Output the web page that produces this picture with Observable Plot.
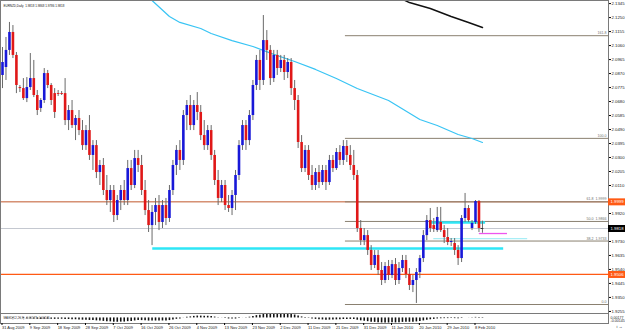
<!DOCTYPE html>
<html><head><meta charset="utf-8">
<script src="https://cdn.jsdelivr.net/npm/d3@7"></script>
<script src="https://cdn.jsdelivr.net/npm/@observablehq/plot@0.6"></script>
<style>
body{margin:0;background:#fff;width:625px;height:330px;overflow:hidden}
#chart svg{display:block}
</style>
</head><body><div id="chart"></div>
<script>
const title = "EURNZD,Daily  1.9818 1.9868 1.9786 1.9818";

const open = [2.0857,2.0911,2.1027,2.1149,2.0993,2.0775,2.0768,2.0700,2.0775,2.0836,
2.0721,2.0633,2.0687,2.0870,2.0789,2.0734,2.0734,2.0734,2.0734,2.0551,
2.0619,2.0517,2.0565,2.0483,2.0381,2.0483,2.0314,2.0381,2.0198,2.0246,
2.0076,2.0008,2.0076,1.9906,2.0008,2.0076,2.0008,2.0225,2.0110,2.0293,
2.0246,2.0076,1.9940,1.9838,1.9927,1.9974,1.9859,1.9974,1.9886,2.0076,
2.0246,2.0348,2.0280,2.0585,2.0653,2.0517,2.0653,2.0606,2.0449,2.0381,
2.0483,2.0314,2.0144,2.0022,2.0110,1.9974,1.9954,2.0042,2.0178,2.0381,
2.0517,2.0415,2.0585,2.0789,2.0959,2.0823,2.1094,2.1027,2.0836,2.0993,
2.0904,2.0959,2.0877,2.0945,2.0768,2.0687,2.0402,2.0225,2.0348,2.0178,
2.0110,2.0198,2.0130,2.0212,2.0130,2.0280,2.0225,2.0334,2.0280,2.0375,
2.0314,2.0246,2.0178,1.9818,1.9736,1.9770,1.9669,1.9567,1.9635,1.9533,
1.9465,1.9560,1.9499,1.9573,1.9465,1.9546,1.9601,1.9506,1.9431,1.9465,
1.9519,1.9614,1.9770,1.9872,1.9838,1.9804,1.9859,1.9804,1.9757,1.9723,
1.9716,1.9669,1.9614,1.9886,1.9954,1.9818,1.9859,2.0001,1.9818];

const high = [2.1047,2.1115,2.1217,2.1196,2.1013,2.0789,2.0836,2.0843,2.1006,2.0959,
2.0755,2.0700,2.0904,2.0891,2.0802,2.0768,2.0755,2.0748,2.0836,2.0653,
2.0687,2.0585,2.0619,2.0551,2.0517,2.0585,2.0415,2.0415,2.0280,2.0293,
2.0178,2.0110,2.0110,2.0042,2.0110,2.0144,2.0280,2.0280,2.0348,2.0348,
2.0314,2.0144,2.0008,1.9974,2.0022,2.0042,2.0008,2.0022,2.0110,2.0280,
2.0381,2.0415,2.0619,2.0687,2.0721,2.0687,2.0741,2.0653,2.0551,2.0517,
2.0517,2.0348,2.0212,2.0144,2.0144,2.0042,2.0076,2.0212,2.0415,2.0551,
2.0551,2.0619,2.0823,2.0993,2.1027,2.1264,2.1162,2.1060,2.1027,2.1027,
2.0993,2.0993,2.0972,2.0972,2.0823,2.0721,2.0449,2.0381,2.0381,2.0246,
2.0225,2.0246,2.0246,2.0246,2.0314,2.0314,2.0361,2.0381,2.0415,2.0415,
2.0381,2.0348,2.0212,1.9872,1.9818,1.9804,1.9702,1.9669,1.9669,1.9587,
1.9587,1.9601,1.9601,1.9614,1.9587,1.9635,1.9635,1.9546,1.9499,1.9546,
1.9635,1.9804,1.9906,1.9954,1.9886,1.9961,1.9961,1.9838,1.9818,1.9750,
1.9750,1.9702,1.9906,2.0056,1.9974,1.9872,2.0008,2.0008,1.9868];

const low = [2.0768,2.0823,2.0993,2.0972,2.0734,2.0741,2.0687,2.0673,2.0755,2.0707,
2.0585,2.0606,2.0667,2.0768,2.0653,2.0565,2.0714,2.0721,2.0517,2.0483,
2.0497,2.0415,2.0449,2.0348,2.0348,2.0280,2.0212,2.0157,2.0110,2.0042,
1.9974,1.9927,1.9859,1.9872,1.9940,1.9974,1.9974,2.0076,2.0089,2.0198,
2.0042,1.9906,1.9791,1.9702,1.9838,1.9804,1.9818,1.9838,1.9859,2.0042,
2.0178,2.0212,2.0246,2.0483,2.0483,2.0483,2.0551,2.0415,2.0348,2.0348,
2.0280,2.0110,1.9974,1.9994,1.9940,1.9927,1.9906,1.9940,2.0144,2.0348,
2.0348,2.0381,2.0551,2.0755,2.0755,2.0789,2.0959,2.0789,2.0809,2.0857,
2.0877,2.0823,2.0836,2.0721,2.0619,2.0361,2.0198,2.0198,2.0144,2.0076,
2.0076,2.0089,2.0110,2.0076,2.0110,2.0198,2.0212,2.0246,2.0246,2.0266,
2.0212,2.0144,1.9791,1.9702,1.9702,1.9635,1.9533,1.9546,1.9499,1.9431,
1.9444,1.9465,1.9478,1.9431,1.9438,1.9519,1.9478,1.9397,1.9383,1.9309,
1.9478,1.9587,1.9736,1.9791,1.9791,1.9791,1.9791,1.9716,1.9702,1.9696,
1.9635,1.9567,1.9587,1.9859,1.9859,1.9804,1.9845,1.9791,1.9786];

const close = [2.0945,2.1027,2.1149,2.0993,2.0789,2.0768,2.0700,2.0775,2.0836,2.0721,
2.0619,2.0687,2.0870,2.0789,2.0687,2.0606,2.0728,2.0728,2.0551,2.0619,
2.0517,2.0565,2.0483,2.0381,2.0483,2.0314,2.0381,2.0198,2.0246,2.0076,
2.0008,2.0076,1.9906,2.0008,2.0076,2.0008,2.0225,2.0110,2.0293,2.0246,
2.0076,1.9940,1.9838,1.9927,1.9974,1.9859,1.9974,1.9886,2.0076,2.0246,
2.0348,2.0280,2.0585,2.0653,2.0517,2.0653,2.0606,2.0449,2.0381,2.0483,
2.0314,2.0144,2.0022,2.0110,1.9974,1.9954,2.0042,2.0178,2.0381,2.0517,
2.0415,2.0585,2.0789,2.0959,2.0823,2.1094,2.1027,2.0836,2.0993,2.0904,
2.0959,2.0877,2.0945,2.0768,2.0687,2.0402,2.0225,2.0348,2.0178,2.0110,
2.0198,2.0130,2.0212,2.0130,2.0280,2.0225,2.0334,2.0280,2.0375,2.0314,
2.0246,2.0178,1.9818,1.9736,1.9770,1.9669,1.9567,1.9635,1.9533,1.9465,
1.9560,1.9499,1.9573,1.9465,1.9546,1.9601,1.9506,1.9431,1.9465,1.9519,
1.9614,1.9770,1.9872,1.9818,1.9811,1.9893,1.9804,1.9757,1.9723,1.9730,
1.9669,1.9614,1.9886,1.9954,1.9872,1.9852,2.0001,1.9818,1.9818];

// moving averages (sampled at bar indices)
const cyanIdx = [41,43,48,51,57,60,66,72,78,84,90,96,102,108,111,120,125,131,135,138];
const cyanMA  = [2.1407,2.1366,2.1257,2.1217,2.1176,2.1142,2.1094,2.1054,2.1000,2.0952,2.0898,2.0836,2.0769,2.0714,2.0687,2.0558,2.0517,2.0456,2.0429,2.0402];
const blackIdx = [114,117,123,129,134,138];
const blackMA  = [2.1386,2.1352,2.1312,2.1257,2.1217,2.1183];

// price-axis ticks (those hidden under the price boxes are left out)
const yTicks = [2.1345,2.1250,2.1155,2.1060,2.0965,2.0870,2.0775,2.0680,2.0585,2.0490,2.0395,2.0300,2.0205,2.0110,1.9920,1.9730,1.9635,1.9540,1.9445,1.9350,1.9255];

// date axis (bar index of each label)
const xTickIdx = [0,8,16,24,32,40,48,56,64,72,80,88,96,104,112,120,128,136];
const xTickLabels = ["31 Aug 2009","9 Sep 2009","18 Sep 2009","28 Sep 2009","7 Oct 2009","16 Oct 2009","26 Oct 2009","4 Nov 2009","13 Nov 2009","23 Nov 2009","2 Dec 2009","11 Dec 2009","21 Dec 2009","31 Dec 2009","11 Jan 2010","20 Jan 2010","29 Jan 2010","8 Feb 2010"];

// Fibonacci tool
const fibAnchor0 = 1.9302, fibAnchor100 = 2.0430;
const fibLevelsA = [0, 100, 161.8];
const fibLevelsB = [38.2, 50, 61.8];
const fibStartIdx = 98.6;

// horizontal lines
const bidPrice = 1.9818;
const orangeHigh = 1.9999;
const orangeLow = 1.9506;
const cyanZones = [
  {p:1.9682, from:43.2, to:144.1, w:2.6, c:"#2ee6f6"},
  {p:1.9859, from:123.1, to:138.9, w:2.6, c:"#2ee6f6"},
  {p:1.9750, from:124.0, to:151.0, w:1.2, c:"#a8eef6"}
];
const magentaLine = {p:1.9784, from:137.1, to:145.2};

const macdLabels = ["MACD(12,26,9) -0.00177 -0.00145", "0.00177", "-0.00145"];

// ---------- build ----------
const xDomain = [-0.575, 174.24];
const xRight = xDomain[1];
const yDomain = [1.9241, 2.1366];
const rows = close.map((c,i)=>({i, o:open[i], h:high[i], l:low[i], c}));
const up = rows.filter(d=>d.c>d.o+0.0002);
const dn = rows.filter(d=>d.c<d.o-0.0002);
const dj = rows.filter(d=>Math.abs(d.c-d.o)<=0.0002);
const cyanRows = cyanIdx.map((i,k)=>({i, v:cyanMA[k]}));
const blackRows = blackIdx.map((i,k)=>({i, v:blackMA[k]}));
const fibP = r => fibAnchor0 + r/100*(fibAnchor100-fibAnchor0);
const fibA = fibLevelsA.map(r=>({r, p:fibP(r)}));
const fibB = fibLevelsB.map(r=>({r, p:fibP(r)}));
const fibLineColor = "#8a8070";

function ema(arr,n){const k=2/(n+1);let e=arr[0];return arr.map(v=>(e=v*k+e*(1-k)));}
const e12 = ema(close,12), e26 = ema(close,26);
const macd = close.map((c,i)=>({i, m:e12[i]-e26[i]}));
const mn = d3.min(macd,d=>d.m), mx = d3.max(macd,d=>d.m);

const font = "Liberation Sans, Arial, sans-serif";

const main = Plot.plot({
  width:625, height:313,
  marginTop:0, marginBottom:0, marginLeft:0, marginRight:17,
  style:{background:"#fff", fontFamily:font, fontSize:"4.3px", overflow:"visible"},
  x:{domain:xDomain, axis:null},
  y:{domain:yDomain, axis:null},
  marks:[
    Plot.ruleY([bidPrice], {stroke:"#c4c8d0", strokeWidth:1}),
    Plot.ruleY([orangeHigh], {stroke:"#c0582c", strokeWidth:1}),
    Plot.ruleY([orangeLow], {stroke:"#ff5a14", strokeWidth:1.2}),
    Plot.ruleY(fibA, {y:"p", x1:fibStartIdx, x2:xRight, stroke:fibLineColor, strokeWidth:1}),
    Plot.ruleY(fibB, {y:"p", x1:fibStartIdx, x2:xRight, stroke:fibLineColor, strokeWidth:1}),
    Plot.ruleY(cyanZones, {y:"p", x1:"from", x2:"to", stroke:"c", strokeWidth:"w"}),
    Plot.ruleY([magentaLine], {y:"p", x1:"from", x2:"to", stroke:"#ee55ee", strokeWidth:1.3}),
    Plot.line(cyanRows, {x:"i", y:"v", stroke:"#38c4f4", strokeWidth:1.2}),
    Plot.line(blackRows, {x:"i", y:"v", stroke:"#111", strokeWidth:1.5}),
    Plot.ruleX(rows, {x:"i", y1:"l", y2:"h", stroke:"#6a6a6a", strokeWidth:1}),
    Plot.ruleX(up, {x:"i", y1:"o", y2:"c", stroke:"#1818d8", strokeWidth:2.6}),
    Plot.ruleX(dn, {x:"i", y1:"o", y2:"c", stroke:"#e01818", strokeWidth:2.6}),
    Plot.ruleY(dj, {y:"c", x1:d=>d.i-0.4, x2:d=>d.i+0.4, stroke:"#333", strokeWidth:1}),
    Plot.frame({stroke:"#7a7a7a"}),
    Plot.text(fibA, {y:"p", frameAnchor:"right", dx:-2, dy:-2.5, text:d=>d.r.toFixed(1), textAnchor:"end", fill:"#707070", fontSize:3.6}),
    Plot.text(fibB, {y:"p", frameAnchor:"right", dx:-2, dy:-2.5, text:d=>`${d.r.toFixed(1)}  ${d.p.toFixed(4)}`, textAnchor:"end", fill:"#707070", fontSize:3.6}),
    Plot.axisY(yTicks, {anchor:"right", tickSize:2, tickPadding:1, tickFormat:d=>d.toFixed(4), fontSize:4.3, fill:"#222"}),
    Plot.ruleY([orangeHigh], {x1:xRight, x2:xRight+5.2, stroke:"#ff5a14", strokeWidth:7, clip:false}),
    Plot.text([orangeHigh], {y:d=>d, frameAnchor:"right", dx:2, textAnchor:"start", text:d=>d.toFixed(4), fill:"#fff", fontSize:4.3}),
    Plot.ruleY([orangeLow], {x1:xRight, x2:xRight+5.2, stroke:"#ff5a14", strokeWidth:7, clip:false}),
    Plot.text([orangeLow], {y:d=>d, frameAnchor:"right", dx:2, textAnchor:"start", text:d=>d.toFixed(4), fill:"#fff", fontSize:4.3}),
    Plot.ruleY([bidPrice], {x1:xRight, x2:xRight+5.2, stroke:"#000", strokeWidth:7, clip:false}),
    Plot.text([bidPrice], {y:d=>d, frameAnchor:"right", dx:2, textAnchor:"start", text:d=>d.toFixed(4), fill:"#fff", fontSize:4.3}),
    Plot.text([title], {frameAnchor:"top-left", dx:3, dy:4, textAnchor:"start", fontSize:3, fill:"#111"})
  ]
});

const lower = Plot.plot({
  width:625, height:17,
  marginTop:0, marginBottom:7, marginLeft:0, marginRight:17,
  style:{background:"#fff", fontFamily:font, fontSize:"4px", overflow:"visible"},
  x:{domain:xDomain, axis:null},
  y:{domain:[mn*1.1, Math.max(mx*1.1, -mn*0.8)], axis:null},
  marks:[
    Plot.ruleX(macd, {x:"i", y1:0, y2:"m", stroke:"#111", strokeWidth:1.6}),
    Plot.frame({stroke:"#7a7a7a"}),
    Plot.text([macdLabels[0]], {frameAnchor:"top-left", dx:3, dy:3, textAnchor:"start", fontSize:3, fill:"#333"}),
    Plot.text([macdLabels[1]], {frameAnchor:"top-right", dx:2, dy:2.5, textAnchor:"start", fontSize:3.6, fill:"#222"}),
    Plot.text([macdLabels[2]], {frameAnchor:"bottom-right", dx:2, dy:-2, textAnchor:"start", fontSize:3.6, fill:"#222"}),
    Plot.axisX(xTickIdx, {anchor:"bottom", tickSize:2, tickPadding:1, textAnchor:"start", dx:-0.5,
      tickFormat:i=>xTickLabels[xTickIdx.indexOf(i)], fontSize:4, fill:"#222"})
  ]
});

document.getElementById("chart").append(main, lower);
</script>
</body></html>
